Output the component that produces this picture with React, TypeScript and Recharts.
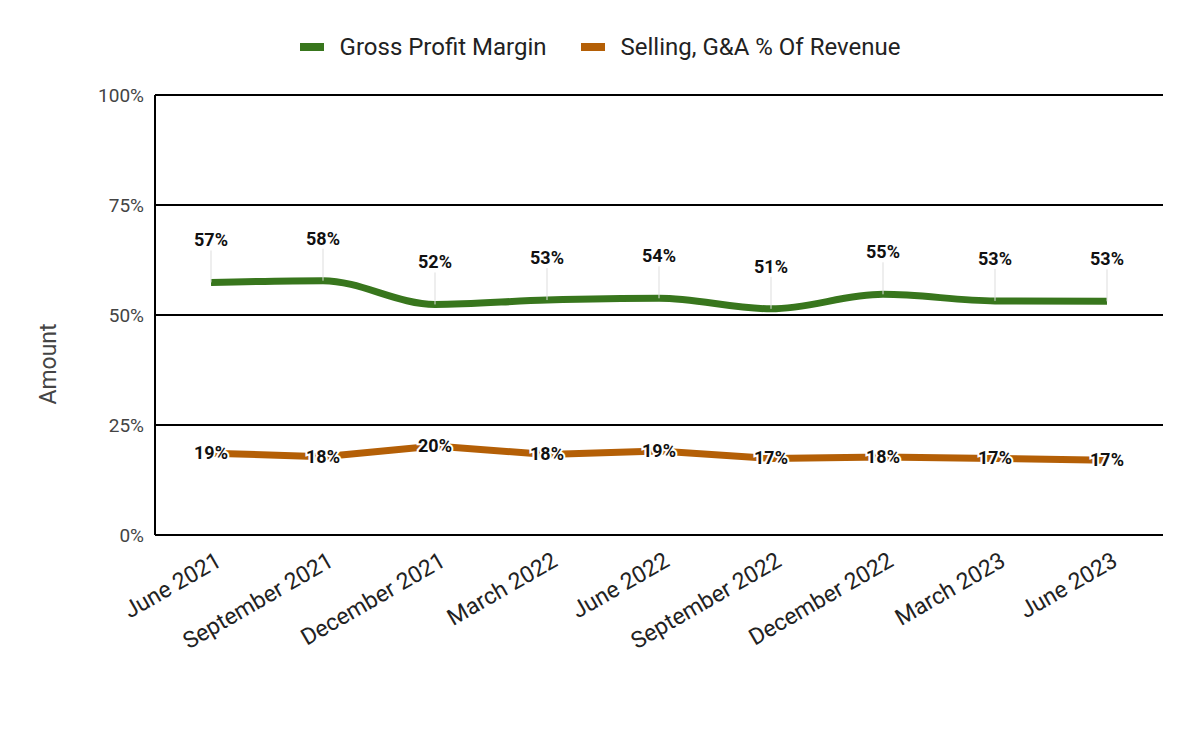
import { CartesianGrid, LabelList, Line, LineChart, XAxis, YAxis } from "recharts";

const months = [
  "June 2021",
  "September 2021",
  "December 2021",
  "March 2022",
  "June 2022",
  "September 2022",
  "December 2022",
  "March 2023",
  "June 2023",
];
const grossMargin = [57.4, 57.8, 52.4, 53.4, 53.8, 51.4, 54.7, 53.2, 53.1];
const sgaPct = [18.6, 17.8, 20.2, 18.3, 19.1, 17.4, 17.7, 17.4, 17.0];
const yTicks = [0, 25, 50, 75, 100];

const GREEN = "#38761d";
const ORANGE = "#b45f06";
const FONT = "Roboto, sans-serif";

const data = months.map((month, i) => ({ month, gross: grossMargin[i], sga: sgaPct[i] }));

function MonthTick({ x, y, payload }: any) {
  return (
    <g transform={`translate(${x + 12},${y + 22})`}>
      <text textAnchor="end" transform="rotate(-30)" fontSize={23} fill="#222" fontFamily={FONT}>
        {payload.value}
      </text>
    </g>
  );
}

function GrossLabel({ x, y, value }: any) {
  return (
    <g>
      <line x1={x} x2={x} y1={y - 32} y2={y} stroke="#ddd" strokeWidth={1} />
      <text x={x} y={y - 36} textAnchor="middle" fontSize={18} fontWeight="bold" fill="#111" fontFamily={FONT}>
        {Math.round(value)}%
      </text>
    </g>
  );
}

function SgaLabel({ x, y, value }: any) {
  return (
    <text
      x={x}
      y={y}
      dy={6}
      textAnchor="middle"
      fontSize={18}
      fontWeight="bold"
      fill="#111"
      stroke="#fff"
      strokeWidth={4}
      paintOrder="stroke"
      fontFamily={FONT}
    >
      {Math.round(value)}%
    </text>
  );
}

function AxisTitle() {
  return (
    <text x={56} y={364} transform="rotate(-90 56 364)" textAnchor="middle" fontSize={23} fill="#444" fontFamily={FONT}>
      Amount
    </text>
  );
}

function LegendItem({ color, label }: { color: string; label: string }) {
  return (
    <div style={{ display: "flex", alignItems: "center" }}>
      <div style={{ width: 24, height: 8, background: color, marginRight: 16 }} />
      <span>{label}</span>
    </div>
  );
}

export default function App() {
  return (
    <div style={{ position: "absolute", left: 0, top: 0, width: 1200, height: 742, background: "#fff" }}>
      <div
        style={{
          position: "absolute",
          top: 33,
          left: 0,
          width: 1200,
          display: "flex",
          justifyContent: "center",
          gap: 34,
          fontFamily: FONT,
          fontSize: 24,
          color: "#222",
          lineHeight: "28px",
        }}
      >
        <LegendItem color={GREEN} label="Gross Profit Margin" />
        <LegendItem color={ORANGE} label="Selling, G&A % Of Revenue" />
      </div>
      <LineChart width={1200} height={742} data={data} margin={{ top: 95, right: 37, bottom: 0, left: 0 }}>
        <CartesianGrid vertical={false} stroke="#000" strokeWidth={2} />
        <XAxis
          dataKey="month"
          height={207}
          padding={{ left: 56, right: 56 }}
          axisLine={false}
          tickLine={false}
          interval={0}
          tick={<MonthTick />}
        />
        <YAxis
          width={155}
          domain={[0, 100]}
          ticks={yTicks}
          tickFormatter={(v) => `${v}%`}
          axisLine={{ stroke: "#000", strokeWidth: 2 }}
          tickLine={false}
          tickMargin={5}
          tick={{ fontSize: 19, fill: "#444", fontFamily: FONT }}
          label={<AxisTitle />}
        />
        <Line
          type="monotone"
          dataKey="gross"
          stroke={GREEN}
          strokeWidth={7}
          dot={false}
          activeDot={false}
          isAnimationActive={false}
        >
          <LabelList dataKey="gross" content={<GrossLabel />} />
        </Line>
        <Line
          type="linear"
          dataKey="sga"
          stroke={ORANGE}
          strokeWidth={7}
          dot={false}
          activeDot={false}
          isAnimationActive={false}
        >
          <LabelList dataKey="sga" content={<SgaLabel />} />
        </Line>
      </LineChart>
    </div>
  );
}
